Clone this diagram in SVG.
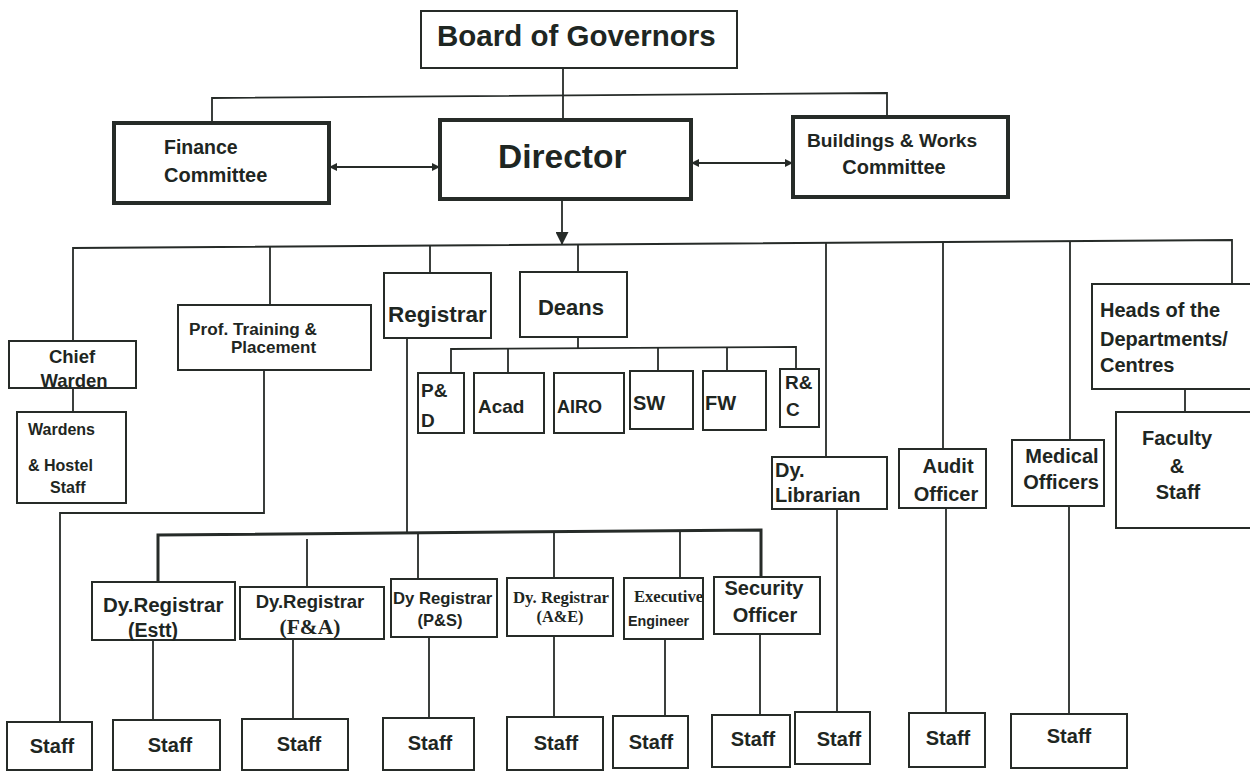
<svg xmlns="http://www.w3.org/2000/svg" width="1250" height="772" viewBox="0 0 1250 772">
  <style>
    .box { fill: #ffffff; stroke: #262b28; stroke-width: 2; }
    .thick { stroke-width: 4; }
    .ln { fill: none; stroke: #262b28; stroke-width: 1.8; }
    .bus { fill: none; stroke: #262b28; stroke-width: 3; }
    text { font-family: "Liberation Sans", Arial, sans-serif; font-weight: bold; fill: #1e2622; }
    .serif { font-family: "Liberation Serif", "Times New Roman", serif; }
    .mid { text-anchor: middle; }
    .s20 { font-size: 20px; }
    .s19 { font-size: 19px; }
    .s17 { font-size: 17px; }
    .s16 { font-size: 16px; }
  </style>
  <defs>
    <marker id="tip" viewBox="0 0 10 10" refX="10" refY="5" markerWidth="9" markerHeight="8" markerUnits="userSpaceOnUse" orient="auto-start-reverse">
      <path d="M0,0 L10,5 L0,10 z" fill="#262b28"/>
    </marker>
    <marker id="bigtip" viewBox="0 0 10 10" refX="10" refY="5" markerWidth="15" markerHeight="13" markerUnits="userSpaceOnUse" orient="auto">
      <path d="M0,0 L10,5 L0,10 z" fill="#262b28"/>
    </marker>
  </defs>

  <rect width="1250" height="772" fill="#ffffff"/>

  <!-- connectors -->
  <g id="connectors">
    <!-- board to director and committees -->
    <path class="ln" d="M563,68 V119"/>
    <path class="ln" d="M212,123 V98 L887,93 V117"/>
    <path class="ln" d="M329,167 H440" marker-start="url(#tip)" marker-end="url(#tip)"/>
    <path class="ln" d="M691,163 H793" marker-start="url(#tip)" marker-end="url(#tip)"/>
    <path class="ln" d="M562,199 V245" marker-end="url(#bigtip)"/>

    <!-- main bus under director -->
    <path class="ln" d="M73,341 V248 L1232,240 V284"/>
    <path class="ln" d="M270,246.6 V305"/>
    <path class="ln" d="M430,245.5 V273"/>
    <path class="ln" d="M578,244.5 V272"/>
    <path class="ln" d="M826,242.8 V457"/>
    <path class="ln" d="M943,242 V449"/>
    <path class="ln" d="M1070,241.1 V440"/>

    <!-- chief warden to wardens -->
    <path class="ln" d="M73,388 V412"/>
    <!-- placement to staff -->
    <path class="ln" d="M264,370 V513 H60 V722"/>

    <!-- deans sub-bus -->
    <path class="ln" d="M578,337 V348"/>
    <path class="ln" d="M451,373 V349 L796,347 V369"/>
    <path class="ln" d="M508,348.7 V373"/>
    <path class="ln" d="M658,347.8 V371"/>
    <path class="ln" d="M727,347.4 V371"/>

    <!-- heads to faculty -->
    <path class="ln" d="M1185,389 V412"/>

    <!-- registrar bus -->
    <path class="ln" d="M407,338 V533"/>
    <path class="bus" d="M158,582 V535 L761,530 V577"/>
    <path class="ln" d="M307,539 V587"/>
    <path class="ln" d="M418,533 V579"/>
    <path class="ln" d="M554,532 V578"/>
    <path class="ln" d="M680,531 V578"/>

    <!-- down to staff -->
    <path class="ln" d="M153,640 V720"/>
    <path class="ln" d="M293,639 V719"/>
    <path class="ln" d="M429,637 V718"/>
    <path class="ln" d="M554,636 V727"/>
    <path class="ln" d="M665,639 V716"/>
    <path class="ln" d="M760,634 V715"/>
    <path class="ln" d="M837,509 V712"/>
    <path class="ln" d="M946,508 V713"/>
    <path class="ln" d="M1069,506 V714"/>
  </g>

  <!-- top level -->
  <g id="board">
    <rect class="box" x="421" y="11" width="316" height="57"/>
    <text x="437" y="46" style="font-size:29.5px">Board of Governors</text>
  </g>
  <g id="finance">
    <rect class="box thick" x="114" y="123" width="215" height="80"/>
    <text x="164" y="154" style="font-size:19.5px">Finance</text>
    <text x="164" y="182" class="s20">Committee</text>
  </g>
  <g id="director">
    <rect class="box thick" x="440" y="120" width="251" height="79"/>
    <text x="498" y="168" style="font-size:33.5px">Director</text>
  </g>
  <g id="buildings">
    <rect class="box thick" x="793" y="117" width="215" height="80"/>
    <text x="807" y="147" style="font-size:19.2px">Buildings &amp; Works</text>
    <text x="894" y="174" class="s20 mid">Committee</text>
  </g>

  <!-- second level -->
  <g id="chief-warden">
    <rect class="box" x="9" y="341" width="127" height="47"/>
    <text x="72" y="363" class="mid" style="font-size:18.5px">Chief</text>
    <text x="74" y="387" class="mid" style="font-size:18.5px">Warden</text>
  </g>
  <g id="wardens">
    <rect class="box" x="17" y="412" width="109" height="91"/>
    <text x="28" y="435" class="s16">Wardens</text>
    <text x="28" y="471" class="s16">&amp; Hostel</text>
    <text x="50" y="493" class="s16">Staff</text>
  </g>
  <g id="placement">
    <rect class="box" x="178" y="305" width="193" height="65"/>
    <text x="189" y="335" style="font-size:17.2px">Prof. Training &amp;</text>
    <text x="231" y="353" class="s17">Placement</text>
  </g>
  <g id="registrar">
    <rect class="box" x="384" y="273" width="107" height="65"/>
    <text x="388" y="322" style="font-size:22.5px">Registrar</text>
  </g>
  <g id="deans">
    <rect class="box" x="520" y="272" width="107" height="65"/>
    <text x="571" y="315" class="mid" style="font-size:22px">Deans</text>
  </g>

  <!-- deans' offices -->
  <g id="dean-pd">
    <rect class="box" x="418" y="373" width="46" height="60"/>
    <text x="421" y="397" class="s19">P&amp;</text>
    <text x="421" y="427" class="s19">D</text>
  </g>
  <g id="dean-acad">
    <rect class="box" x="474" y="373" width="70" height="60"/>
    <text x="478" y="413" class="s19">Acad</text>
  </g>
  <g id="dean-airo">
    <rect class="box" x="554" y="373" width="70" height="60"/>
    <text x="557" y="413" style="font-size:18px">AIRO</text>
  </g>
  <g id="dean-sw">
    <rect class="box" x="630" y="371" width="63" height="58"/>
    <text x="633" y="410" style="font-size:20px">SW</text>
  </g>
  <g id="dean-fw">
    <rect class="box" x="703" y="371" width="63" height="59"/>
    <text x="705" y="410" style="font-size:20px">FW</text>
  </g>
  <g id="dean-rc">
    <rect class="box" x="780" y="369" width="39" height="58"/>
    <text x="785" y="389" class="s19">R&amp;</text>
    <text x="786" y="416" class="s19">C</text>
  </g>

  <!-- right-hand offices -->
  <g id="librarian">
    <rect class="box" x="772" y="457" width="115" height="52"/>
    <text x="775" y="477" class="s20">Dy.</text>
    <text x="775" y="502" class="s20">Librarian</text>
  </g>
  <g id="audit">
    <rect class="box" x="899" y="449" width="87" height="59"/>
    <text x="948" y="473" class="s20 mid">Audit</text>
    <text x="946" y="501" class="s20 mid">Officer</text>
  </g>
  <g id="medical">
    <rect class="box" x="1012" y="440" width="92" height="66"/>
    <text x="1062" y="463" class="s20 mid">Medical</text>
    <text x="1061" y="489" class="s20 mid">Officers</text>
  </g>
  <g id="heads">
    <rect class="box" x="1092" y="284" width="160" height="105"/>
    <text x="1100" y="317" class="s20">Heads of the</text>
    <text x="1100" y="346" class="s20">Departments/</text>
    <text x="1100" y="372" class="s20">Centres</text>
  </g>
  <g id="faculty">
    <rect class="box" x="1116" y="412" width="136" height="116"/>
    <text x="1177" y="445" class="s20 mid">Faculty</text>
    <text x="1177" y="473" class="s20 mid">&amp;</text>
    <text x="1178" y="499" class="s20 mid">Staff</text>
  </g>

  <!-- registrar's deputies -->
  <g id="dyreg-estt">
    <rect class="box" x="92" y="582" width="143" height="58"/>
    <text x="103" y="612" style="font-size:20.5px">Dy.Registrar</text>
    <text x="153" y="637" class="mid" style="font-size:19.5px">(Estt)</text>
  </g>
  <g id="dyreg-fa">
    <rect class="box" x="240" y="587" width="144" height="52"/>
    <text x="310" y="608" class="mid" style="font-size:18.5px">Dy.Registrar</text>
    <text x="310" y="634" class="serif mid" style="font-size:21.5px">(F&amp;A)</text>
  </g>
  <g id="dyreg-ps">
    <rect class="box" x="391" y="579" width="106" height="58"/>
    <text x="393" y="604" style="font-size:16.7px">Dy Registrar</text>
    <text x="440" y="626" class="mid" style="font-size:16.5px">(P&amp;S)</text>
  </g>
  <g id="dyreg-ae">
    <rect class="box" x="507" y="578" width="106" height="58"/>
    <text x="561" y="603" class="serif mid" style="font-size:16.8px">Dy. Registrar</text>
    <text x="560" y="622" class="serif mid" style="font-size:16.3px">(A&amp;E)</text>
  </g>
  <g id="exec-engineer">
    <rect class="box" x="624" y="578" width="79" height="61"/>
    <text x="634" y="602" class="serif" style="font-size:16.6px">Executive</text>
    <text x="628" y="626" style="font-size:14.3px">Engineer</text>
  </g>
  <g id="security">
    <rect class="box" x="714" y="577" width="106" height="57"/>
    <text x="764" y="595" class="s20 mid">Security</text>
    <text x="765" y="622" class="s20 mid">Officer</text>
  </g>

  <!-- staff row -->
  <g id="staff-1"><rect class="box" x="7" y="722" width="85" height="48"/><text x="52" y="753" class="s20 mid">Staff</text></g>
  <g id="staff-2"><rect class="box" x="113" y="720" width="107" height="50"/><text x="170" y="752" class="s20 mid">Staff</text></g>
  <g id="staff-3"><rect class="box" x="242" y="719" width="106" height="51"/><text x="299" y="751" class="s20 mid">Staff</text></g>
  <g id="staff-4"><rect class="box" x="383" y="718" width="91" height="52"/><text x="430" y="750" class="s20 mid">Staff</text></g>
  <g id="staff-5"><rect class="box" x="507" y="717" width="96" height="53"/><text x="556" y="750" class="s20 mid">Staff</text></g>
  <g id="staff-6"><rect class="box" x="613" y="716" width="75" height="52"/><text x="651" y="749" class="s20 mid">Staff</text></g>
  <g id="staff-7"><rect class="box" x="712" y="715" width="78" height="52"/><text x="753" y="746" class="s20 mid">Staff</text></g>
  <g id="staff-8"><rect class="box" x="795" y="712" width="75" height="52"/><text x="839" y="746" class="s20 mid">Staff</text></g>
  <g id="staff-9"><rect class="box" x="909" y="713" width="76" height="54"/><text x="948" y="745" class="s20 mid">Staff</text></g>
  <g id="staff-10"><rect class="box" x="1011" y="714" width="116" height="54"/><text x="1069" y="743" class="s20 mid">Staff</text></g>
</svg>
